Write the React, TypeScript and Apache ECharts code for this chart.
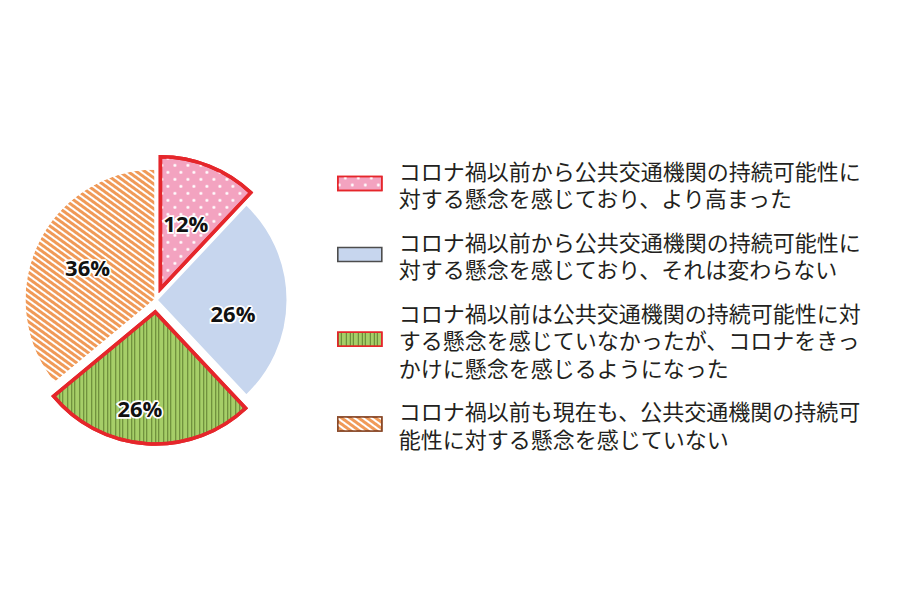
import React, { useEffect, useRef } from 'react';
import * as echarts from 'echarts';

// 回答カテゴリ(凡例テキスト、改行は元図のまま)
const categories: string[] = [
  'コロナ禍以前から公共交通機関の持続可能性に\n対する懸念を感じており、より高まった',
  'コロナ禍以前から公共交通機関の持続可能性に\n対する懸念を感じており、それは変わらない',
  'コロナ禍以前は公共交通機関の持続可能性に対\nする懸念を感じていなかったが、コロナをきっ\nかけに懸念を感じるようになった',
  'コロナ禍以前も現在も、公共交通機関の持続可\n能性に対する懸念を感じていない',
];

// 割合 (%)
const shares: number[] = [12, 26, 26, 36];

// 強調(切り出し)する回答
const highlighted: boolean[] = [true, false, true, false];

const RED = '#e5262b';

const sliceStyles = [
  {
    color: '#f3a3c0',
    borderColor: RED,
    borderWidth: 3.5,
    legendBorder: RED,
    decal: {
      symbol: 'circle',
      color: '#ffffff',
      backgroundColor: '#f3a3c0',
      dashArrayX: [[2.5, 9.5], [0, 6, 2.5, 3.5]],
      dashArrayY: [2.5, 3.5],
      symbolSize: 1,
    },
  },
  {
    color: '#c7d6ee',
    borderColor: '#ffffff',
    borderWidth: 3,
    legendBorder: '#4d4d4d',
    decal: undefined,
  },
  {
    color: '#a6ce68',
    borderColor: RED,
    borderWidth: 3.5,
    legendBorder: RED,
    decal: {
      symbol: 'rect',
      color: '#5f7f30',
      backgroundColor: '#a6ce68',
      dashArrayX: [1, 2, 1, 3.5, 1, 2.5],
      dashArrayY: [5, 0],
      symbolSize: 1,
    },
  },
  {
    color: '#f09a58',
    borderColor: '#ffffff',
    borderWidth: 3,
    legendBorder: '#8a4a28',
    decal: {
      symbol: 'rect',
      color: '#ffffff',
      backgroundColor: '#f09a58',
      dashArrayX: [5, 0],
      dashArrayY: [1.4, 2.2],
      rotation: Math.PI / 5,
      symbolSize: 1,
    },
  },
];

// ラベルの微調整
const labelNudge = [
  { dx: 0, dy: -2 },
  { dx: 8, dy: 13 },
  { dx: -11, dy: 27 },
  { dx: -6, dy: -4 },
];

const App: React.FC = () => {
  const chartRef = useRef<HTMLDivElement>(null);

  useEffect(() => {
    document.body.style.margin = '0';
    if (!chartRef.current) return;
    const chart = echarts.init(chartRef.current, undefined, { renderer: 'svg' });

    const option = {
      animation: false,
      backgroundColor: '#ffffff',
      legend: {
        orient: 'vertical',
        left: 337,
        top: 156,
        padding: 0,
        itemGap: 16,
        itemWidth: 44,
        itemHeight: 14,
        icon: 'rect',
        selectedMode: false,
        data: categories.map((name, i) => ({
          name,
          itemStyle: {
            borderColor: sliceStyles[i].legendBorder,
            borderWidth: 1.6,
          },
        })),
        textStyle: {
          fontFamily: '"Noto Sans CJK JP", sans-serif',
          fontSize: 22,
          lineHeight: 27.5,
          color: '#231f20',
          padding: [0, 0, 0, 12],
        },
      },
      series: [
        {
          type: 'pie',
          center: [156, 300],
          radius: [0, 132],
          startAngle: 90,
          clockwise: true,
          selectedMode: 'multiple',
          selectedOffset: 12,
          emphasis: { disabled: true },
          select: { disabled: false },
          label: {
            show: true,
            position: 'inside',
            formatter: '{c}%',
            fontFamily: '"Open Sans", "Noto Sans", sans-serif',
            fontWeight: 'bold',
            fontSize: 22,
            color: '#111111',
            textBorderColor: '#ffffff',
            textBorderWidth: 3.5,
          },
          labelLine: { show: false },
          labelLayout: (params: { dataIndex: number }) => labelNudge[params.dataIndex],
          data: categories.map((name, i) => ({
            name,
            value: shares[i],
            selected: highlighted[i],
            itemStyle: {
              color: sliceStyles[i].color,
              borderColor: sliceStyles[i].borderColor,
              borderWidth: sliceStyles[i].borderWidth,
              borderJoin: 'miter',
              decal: sliceStyles[i].decal,
            },
          })),
        },
      ],
    };

    // eslint-disable-next-line @typescript-eslint/no-explicit-any
    chart.setOption(option as any);

    return () => {
      chart.dispose();
    };
  }, []);

  return <div ref={chartRef} style={{ width: 900, height: 600 }} />;
};

export default App;
